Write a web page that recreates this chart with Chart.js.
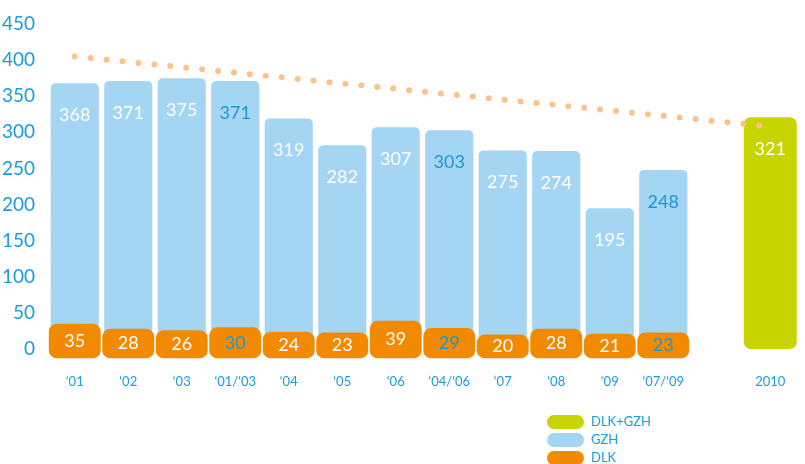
<!DOCTYPE html>
<html>
<head>
<meta charset="utf-8">
<script src="https://cdn.jsdelivr.net/npm/chart.js@4/dist/chart.umd.min.js"></script>
<style>
  html, body { margin: 0; padding: 0; background: #fff; }
  #wrap { width: 805px; height: 464px; }
</style>
</head>
<body>
<div id="wrap"><canvas id="myChart" width="805" height="464"></canvas></div>
<script>
// categories (empty slot before 2010 is a gap in the original)
const years = ['\u201801', '\u201802', '\u201803', '\u201801/\u201803', '\u201804', '\u201805', '\u201806',
               '\u201804/\u201806', '\u201807', '\u201808', '\u201809', '\u201807/\u201809', '', '2010'];
const gzh = [368, 371, 375, 371, 319, 282, 307, 303, 275, 274, 195, 248, null, null];
const dlk = [35, 28, 26, 30, 24, 23, 39, 29, 20, 28, 21, 23, null, null];
const total = [null, null, null, null, null, null, null, null, null, null, null, null, null, 321];
const trend = [405, null, null, null, null, null, null, null, null, null, null, null, null, 308];
const yTicks = [0, 50, 100, 150, 200, 250, 300, 350, 400, 450];

const BLUE = '#a4d5f3';
const ORANGE = '#f28a00';
const GREEN = '#c8d400';
const TEXT = '#1a9dd9';
const FONT = 'Lato, "Noto Sans", sans-serif';

const CHART = document.getElementById('myChart');

const isCombined = i => years[i].indexOf('/') >= 0;

// value labels inside the bars
const barLabels = {
    id: 'barLabels',
    afterDatasetsDraw(chart) {
        const ctx = chart.ctx;
        ctx.save();
        ctx.font = '18px ' + FONT;
        ctx.textAlign = 'center';
        ctx.textBaseline = 'middle';
        chart.data.datasets.forEach((ds, di) => {
            if (ds.type === 'line') return;
            const meta = chart.getDatasetMeta(di);
            meta.data.forEach((bar, i) => {
                const v = ds.data[i];
                if (v == null) return;
                ctx.fillStyle = isCombined(i) ? '#1b98d4' : '#ffffff';
                let y;
                if (ds.label === 'DLK') y = (bar.y + bar.base) / 2;
                else y = bar.y + 32;
                ctx.fillText(String(v), bar.x, y);
            });
        });
        ctx.restore();
    }
};

// vertical legend at the bottom right
const sideLegend = {
    id: 'sideLegend',
    afterDraw(chart) {
        const ctx = chart.ctx;
        const items = chart.data.datasets.filter(d => d.type !== 'line');
        ctx.save();
        ctx.font = '13px ' + FONT;
        ctx.textBaseline = 'middle';
        ctx.textAlign = 'left';
        items.forEach((d, k) => {
            const y = 415 + k * 18;
            ctx.fillStyle = d.backgroundColor;
            ctx.beginPath();
            ctx.roundRect(547, y, 37, 14, 7);
            ctx.fill();
            ctx.fillStyle = TEXT;
            ctx.fillText(d.label, 591, y + 7);
        });
        ctx.restore();
    }
};

new Chart(CHART, {
    type: 'bar',
    data: {
        labels: years,
        datasets: [
            {
                type: 'line',
                label: 'trend',
                data: trend,
                spanGaps: true,
                borderColor: '#fbc28c',
                borderWidth: 6,
                borderDash: [0, 16],
                borderCapStyle: 'round',
                pointRadius: 0,
                fill: false,
                order: 0
            },
            {
                label: 'DLK+GZH',
                data: total,
                backgroundColor: GREEN,
                grouped: false,
                barPercentage: 1,
                categoryPercentage: 0.99,
                borderRadius: 7,
                borderSkipped: false,
                order: 2
            },
            {
                label: 'GZH',
                data: gzh,
                backgroundColor: BLUE,
                grouped: false,
                barPercentage: 1,
                categoryPercentage: 0.9,
                borderRadius: 5,
                order: 3
            },
            {
                label: 'DLK',
                data: dlk,
                backgroundColor: ORANGE,
                grouped: false,
                base: -13,
                barPercentage: 1,
                categoryPercentage: 0.97,
                borderRadius: 8,
                borderSkipped: false,
                order: 1
            }
        ]
    },
    options: {
        responsive: false,
        animation: false,
        layout: { padding: { top: 24, right: 8, bottom: 66, left: 0 } },
        plugins: {
            legend: { display: false },
            tooltip: { enabled: false }
        },
        scales: {
            x: {
                grid: { display: false },
                border: { display: false },
                ticks: {
                    color: TEXT,
                    font: { family: FONT, size: 13 },
                    padding: 8,
                    maxRotation: 0,
                    autoSkip: false
                }
            },
            y: {
                min: -13,
                max: 450,
                grid: { display: false },
                border: { display: false },
                afterBuildTicks: scale => { scale.ticks = yTicks.map(v => ({ value: v })); },
                afterFit: scale => { scale.width = 48; },
                ticks: {
                    color: TEXT,
                    font: { family: FONT, size: 19 },
                    padding: 5
                }
            }
        }
    },
    plugins: [barLabels, sideLegend]
});
</script>
</body>
</html>
